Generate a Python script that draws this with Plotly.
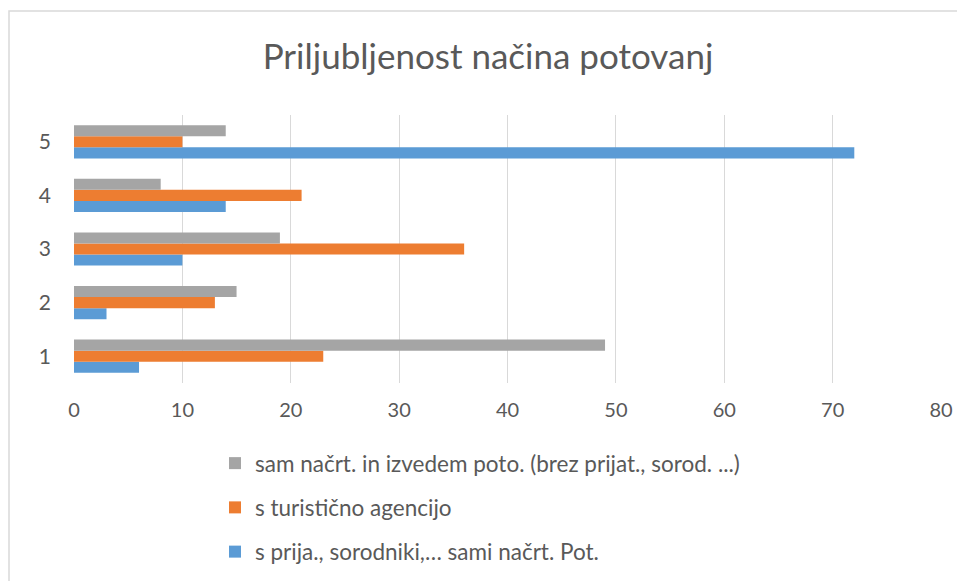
import plotly.graph_objects as go

categories = ["1", "2", "3", "4", "5"]
series_names = [
    "s prija., sorodniki,… sami načrt. Pot.",
    "s turistično agencijo",
    "sam načrt. in izvedem poto. (brez prijat., sorod. ...)",
]
blue_vals = [6, 3, 10, 14, 72]
orange_vals = [23, 13, 36, 21, 10]
gray_vals = [49, 15, 19, 8, 14]
x_ticks = [0, 10, 20, 30, 40, 50, 60, 70, 80]
colors = ["#5B9BD5", "#ED7D31", "#A5A5A5"]
legend_ranks = [3, 2, 1]
title_text = "Priljubljenost načina potovanj"

FONT = "Lato, Open Sans, sans-serif"
TXT = "#595959"

fig = go.Figure()
for name, vals, col, rank in zip(series_names, [blue_vals, orange_vals, gray_vals], colors, legend_ranks):
    fig.add_trace(go.Bar(
        y=categories, x=vals, name=name, orientation="h",
        marker=dict(color=col, line=dict(width=0)),
        legendgroup=name, legendrank=rank,
    ))

fig.update_layout(
    width=957, height=581,
    paper_bgcolor="white", plot_bgcolor="white",
    margin=dict(l=74, r=16, t=115, b=198, autoexpand=False),
    barmode="group", bargap=0.38, bargroupgap=0,
    title=dict(text=title_text, x=488 / 957, xref="container", xanchor="center",
               y=1 - 57 / 581, yanchor="middle", yref="container",
               font=dict(family=FONT, size=35, color=TXT)),
    font=dict(family=FONT, color=TXT),
    xaxis=dict(range=[0, 80], tickvals=x_ticks, showgrid=True, gridcolor="#D9D9D9",
               gridwidth=1.3, zeroline=False, showline=False, ticks="",
               tickfont=dict(size=20, color=TXT), ticklabelstandoff=13, fixedrange=True),
    yaxis=dict(type="category", showgrid=False, zeroline=False, showline=False, ticks="",
               tickfont=dict(size=21, color=TXT), ticklabelstandoff=22, fixedrange=True),
    legend=dict(orientation="v", x=(215 - 74) / 867, xanchor="left",
                y=(383 - 442) / 268, yanchor="top", traceorder="grouped",
                tracegroupgap=12, font=dict(size=22.5, color=TXT),
                itemwidth=30, bgcolor="rgba(0,0,0,0)"),
    showlegend=True,
    shapes=[dict(type="rect", xref="paper", yref="paper",
                 x0=(9 - 74) / 867, x1=(1100 - 74) / 867,
                 y0=(383 - 700) / 268, y1=(383 - 11) / 268,
                 line=dict(color="#D9D9D9", width=1.5), layer="below")],
)

fig.write_html("out.html", config={"displayModeBar": False},
               post_script="document.body.style.margin='0';")
